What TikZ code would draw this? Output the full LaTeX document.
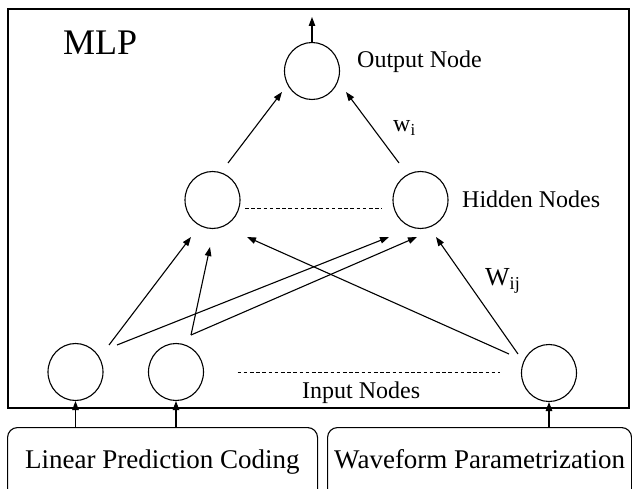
\documentclass[tikz,border=0pt]{standalone}
\usepackage{fontspec}
\setmainfont{Liberation Serif}
\usetikzlibrary{arrows.meta,shapes.geometric}
\begin{document}
\begin{tikzpicture}[x=1pt,y=-1pt,
  unit/.style={draw,ellipse,line width=1.1pt,minimum width=55pt,minimum height=57pt,inner sep=0pt},
  arr/.style={line width=1.1pt,-{Triangle[length=9pt,width=6.5pt]}},
  dots/.style={line width=0.9pt,dash pattern=on 3.6pt off 2.6pt},
  frame/.style={draw,line width=1.3pt},
  srcbox/.style={draw,line width=1.1pt,rounded corners=10pt},
  lbl/.style={anchor=base west,inner sep=0pt,font=\fontsize{24}{28}\selectfont},
  srclbl/.style={anchor=base west,inner sep=0pt,font=\fontsize{27}{31}\selectfont}]
\useasboundingbox (0,0) rectangle (632,489);
\clip (0,0) rectangle (632,489);
\fill[white] (0,0) rectangle (632,489);

% network frame
\draw[frame] (8,9) rectangle (629,408);
\node[anchor=base west,inner sep=0pt,font=\fontsize{36}{40}\selectfont] (title) at (63,55) {MLP};

% units
\node[unit] (out) at (312,71) {};
\node[unit] (h1) at (212.5,200) {};
\node[unit] (h2) at (420.5,200) {};
\node[unit] (i1) at (75.5,372) {};
\node[unit] (i2) at (176,372) {};
\node[unit] (i3) at (549,373) {};

% source boxes (their lower edge runs past the page)
\node[srcbox,minimum width=310pt,minimum height=72pt,anchor=north west] (lpc) at (7,427) {};
\node[srcbox,minimum width=304pt,minimum height=72pt,anchor=north west] (wfp) at (327,427) {};
\node[srclbl] (lpct) at (25,468) {Linear Prediction Coding};
\node[srclbl] (wfpt) at (334,468) {Waveform Parametrization};

% labels
\node[lbl] (outl) at (357,68) {Output Node};
\node[lbl] (hidl) at (462,208) {Hidden Nodes};
\node[lbl] (inl) at (302,398) {Input Nodes};
\node[lbl] (wi) at (393,132) {w$_{\mathrm{i}}$};
\node[lbl,font=\fontsize{26}{30}\selectfont] (wij) at (485,286) {W$_{\mathrm{ij}}$};

% elided units
\draw[dots] ([shift={(32.5,8)}]h1.center) -- ([shift={(-38.5,8)}]h2.center);
\draw[dots] ([shift={(61.5,0)}]i2.center) -- ([shift={(-49,-1)}]i3.center);

% output
\coordinate (top) at (312,17);
\draw[arr] (out.north) -- (top);

% hidden to output
\draw[arr] ([shift={(15.5,-37)}]h1.center) -- ([shift={(-30,21)}]out.center);
\draw[arr] ([shift={(-21.5,-37)}]h2.center) -- ([shift={(34,21)}]out.center);

% input to hidden
\draw[arr] ([shift={(33.5,-27)}]i1.center) -- ([shift={(-21.5,37)}]h1.center);
\draw[arr] ([shift={(41.5,-27)}]i1.center) -- ([shift={(-31.5,37)}]h2.center);
\draw[arr] ([shift={(15,-37)}]i2.center) -- ([shift={(-2.5,47)}]h1.center);
\draw[arr] ([shift={(15,-37)}]i2.center) -- ([shift={(-3.5,37)}]h2.center);
\draw[arr] ([shift={(-40,-19)}]i3.center) -- ([shift={(34.5,37)}]h1.center);
\draw[arr] ([shift={(-31,-19)}]i3.center) -- ([shift={(15.5,37)}]h2.center);

% sources to inputs
\draw[arr] (lpc.north west -| i1.south) -- (i1.south);
\draw[arr] (lpc.north west -| i2.south) -- (i2.south);
\draw[arr] (wfp.north west -| i3.south) -- (i3.south);
\end{tikzpicture}
\end{document}
